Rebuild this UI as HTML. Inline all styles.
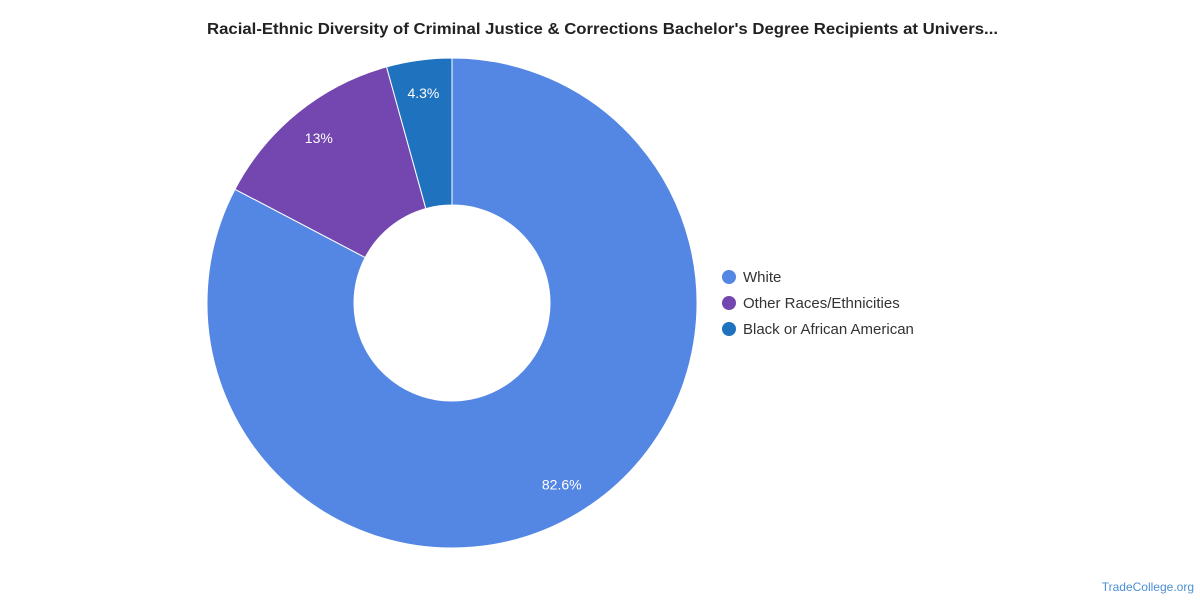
<!DOCTYPE html>
<html><head><meta charset="utf-8"><style>
body{margin:0;background:#fff;width:1200px;height:600px;overflow:hidden;font-family:"Liberation Sans",sans-serif}
</style></head><body>
<svg id="chart" width="1200" height="600">
<text x="207" y="34" font-size="16" font-weight="bold" fill="#222" textLength="791" lengthAdjust="spacingAndGlyphs">Racial-Ethnic Diversity of Criminal Justice &amp; Corrections Bachelor's Degree Recipients at Univers...</text>
<g id="slices"></g>
<g id="legend"></g>
<text x="1194" y="591" font-size="12" fill="#4a8fd6" text-anchor="end">TradeCollege.org</text>
</svg>
<script>
const categories=["White","Other Races/Ethnicities","Black or African American"];
const values=[82.6,13,4.3];
const labels=["82.6%","13%","4.3%"];
const colors=["#5486E3","#7447B0","#1F72BE"];
const NS="http://www.w3.org/2000/svg";
const cx=452,cy=303,R=245,r=98,LR=212;
const total=values.reduce((a,b)=>a+b,0);
function pt(rad,a){return [cx+rad*Math.sin(a),cy-rad*Math.cos(a)];}
let acc=0;
const g=document.getElementById('slices');
values.forEach((v,i)=>{
  const a0=acc/total*2*Math.PI;acc+=v;const a1=acc/total*2*Math.PI;
  const big=(a1-a0)>Math.PI?1:0;
  const p0=pt(R,a0),p1=pt(R,a1),q1=pt(r,a1),q0=pt(r,a0);
  const p=document.createElementNS(NS,'path');
  p.setAttribute('d',`M${p0}A${R},${R} 0 ${big} 1 ${p1}L${q1}A${r},${r} 0 ${big} 0 ${q0}Z`);
  p.setAttribute('fill',colors[i]);p.setAttribute('stroke','#fff');p.setAttribute('stroke-width','1');
  
  
  g.appendChild(p);
  const m=pt(LR,(a0+a1)/2);
  const t=document.createElementNS(NS,'text');
  t.setAttribute('x',m[0]);t.setAttribute('y',m[1]+5);t.setAttribute('text-anchor','middle');
  t.setAttribute('font-size','14');t.setAttribute('fill','#fff');t.textContent=labels[i];
  
  
  g.appendChild(t);
});
const lg=document.getElementById('legend');
categories.forEach((c,i)=>{
  const y=277+i*26;
  const ci=document.createElementNS(NS,'circle');
  ci.setAttribute('cx',729);ci.setAttribute('cy',y);ci.setAttribute('r',7);ci.setAttribute('fill',colors[i]);
  
  
  lg.appendChild(ci);
  const t=document.createElementNS(NS,'text');
  t.setAttribute('x',743);t.setAttribute('y',y+5);t.setAttribute('font-size','15');t.setAttribute('fill','#333');
  t.textContent=c;
  
  
  lg.appendChild(t);
});
</script>
</body></html>
